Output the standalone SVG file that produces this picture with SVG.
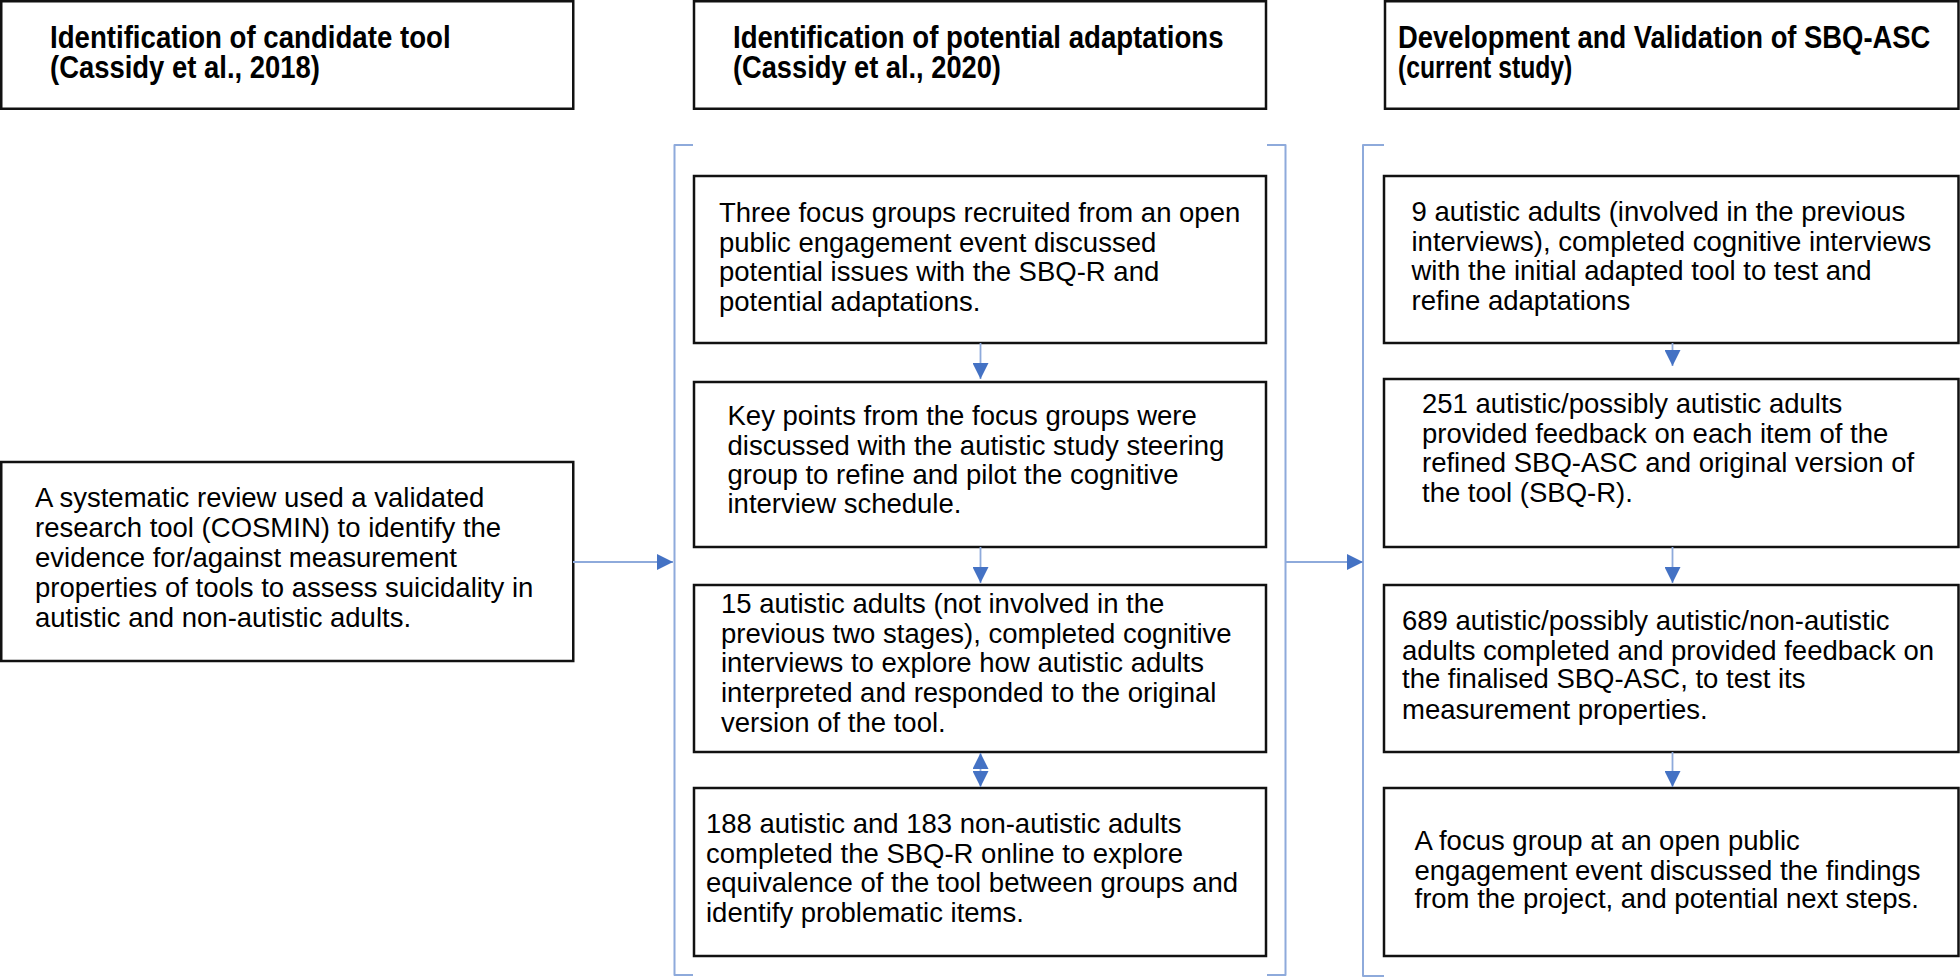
<svg xmlns="http://www.w3.org/2000/svg" width="1960" height="979" viewBox="0 0 1960 979">
<style>
.box{fill:#fff;stroke:#111;stroke-width:2.5}
.hd{font-family:"Liberation Sans",Arial,sans-serif;font-weight:bold;font-size:30.5px;fill:#000}
.tx{font-family:"Liberation Sans",Arial,sans-serif;font-size:27.5px;fill:#000}
.br{fill:none;stroke:#8eaadb;stroke-width:2;stroke-linejoin:round}
.ln{fill:none;stroke:#8eaadb;stroke-width:1.8}
</style>
<defs>
<marker id="ah" markerUnits="userSpaceOnUse" markerWidth="16" markerHeight="16" viewBox="0 0 15 15" refX="15" refY="7.5" orient="auto-start-reverse">
<path d="M0,0 L15,7.5 L0,15 z" fill="#4472c4"/>
</marker>
</defs>
<rect width="1960" height="979" fill="#fff"/>

<g id="header1">
<rect class="box" x="1.25" y="1.25" width="572" height="107.5"/>
<text class="hd" transform="translate(50,48) scale(0.906,1)">Identification of candidate tool</text>
<text class="hd" transform="translate(50,78) scale(0.9,1)">(Cassidy et al., 2018)</text>
</g>
<g id="header2">
<rect class="box" x="694" y="1.25" width="572" height="107.5"/>
<text class="hd" transform="translate(733,48) scale(0.905,1)">Identification of potential adaptations</text>
<text class="hd" transform="translate(733,78) scale(0.893,1)">(Cassidy et al., 2020)</text>
</g>
<g id="header3">
<rect class="box" x="1385" y="1.25" width="573.5" height="107.5"/>
<text class="hd" transform="translate(1398,48) scale(0.898,1)">Development and Validation of SBQ-ASC</text>
<text class="hd" transform="translate(1398,78) scale(0.81,1)">(current study)</text>
</g>

<g id="review">
<rect class="box" x="1.25" y="462" width="572" height="199"/>
<text class="tx" x="35" y="507">A systematic review used a validated</text>
<text class="tx" x="35" y="537">research tool (COSMIN) to identify the</text>
<text class="tx" x="35" y="567">evidence for/against measurement</text>
<text class="tx" x="35" y="597">properties of tools to assess suicidality in</text>
<text class="tx" x="35" y="627">autistic and non-autistic adults.</text>
</g>

<g id="focus-groups">
<rect class="box" x="694" y="176" width="572" height="167"/>
<text class="tx" x="719" y="222">Three focus groups recruited from an open</text>
<text class="tx" x="719" y="251.5">public engagement event discussed</text>
<text class="tx" x="719" y="281">potential issues with the SBQ-R and</text>
<text class="tx" x="719" y="310.5">potential adaptations.</text>
</g>
<g id="key-points">
<rect class="box" x="694" y="382" width="572" height="165"/>
<text class="tx" x="727.5" y="425">Key points from the focus groups were</text>
<text class="tx" x="727.5" y="455">discussed with the autistic study steering</text>
<text class="tx" x="727.5" y="484">group to refine and pilot the cognitive</text>
<text class="tx" x="727.5" y="513">interview schedule.</text>
</g>
<g id="cognitive-15">
<rect class="box" x="694" y="585" width="572" height="167"/>
<text class="tx" x="721" y="613">15 autistic adults (not involved in the</text>
<text class="tx" x="721" y="643">previous two stages), completed cognitive</text>
<text class="tx" x="721" y="672">interviews to explore how autistic adults</text>
<text class="tx" x="721" y="702">interpreted and responded to the original</text>
<text class="tx" x="721" y="732">version of the tool.</text>
</g>
<g id="online-371">
<rect class="box" x="694" y="788" width="572" height="168"/>
<text class="tx" x="706" y="833">188 autistic and 183 non-autistic adults</text>
<text class="tx" x="706" y="863">completed the SBQ-R online to explore</text>
<text class="tx" x="706" y="892">equivalence of the tool between groups and</text>
<text class="tx" x="706" y="922">identify problematic items.</text>
</g>

<g id="cognitive-9">
<rect class="box" x="1384" y="176" width="574.5" height="167"/>
<text class="tx" x="1411.5" y="221">9 autistic adults (involved in the previous</text>
<text class="tx" x="1411.5" y="251">interviews), completed cognitive interviews</text>
<text class="tx" x="1411.5" y="280">with the initial adapted tool to test and</text>
<text class="tx" x="1411.5" y="310">refine adaptations</text>
</g>
<g id="feedback-251">
<rect class="box" x="1384" y="379" width="574.5" height="168"/>
<text class="tx" x="1422" y="413">251 autistic/possibly autistic adults</text>
<text class="tx" x="1422" y="443">provided feedback on each item of the</text>
<text class="tx" x="1422" y="472">refined SBQ-ASC and original version of</text>
<text class="tx" x="1422" y="502">the tool (SBQ-R).</text>
</g>
<g id="validation-689">
<rect class="box" x="1384" y="585" width="574.5" height="167"/>
<text class="tx" x="1402" y="630">689 autistic/possibly autistic/non-autistic</text>
<text class="tx" x="1402" y="660">adults completed and provided feedback on</text>
<text class="tx" x="1402" y="688">the finalised SBQ-ASC, to test its</text>
<text class="tx" x="1402" y="719">measurement properties.</text>
</g>
<g id="final-focus">
<rect class="box" x="1384" y="788" width="574.5" height="168"/>
<text class="tx" x="1414.5" y="850">A focus group at an open public</text>
<text class="tx" x="1414.5" y="880">engagement event discussed the findings</text>
<text class="tx" x="1414.5" y="908">from the project, and potential next steps.</text>
</g>

<g id="connectors">
<path class="br" d="M693,145 H674.5 V975 H693"/>
<path class="br" d="M1267,145 H1285.5 V975 H1267"/>
<path class="br" d="M1384,145 H1363 V976 H1384"/>
<line class="ln" x1="573" y1="562" x2="673" y2="562" marker-end="url(#ah)"/>
<line class="ln" x1="1286" y1="562" x2="1363" y2="562" marker-end="url(#ah)"/>
<line class="ln" x1="980.5" y1="343" x2="980.5" y2="379" marker-end="url(#ah)"/>
<line class="ln" x1="980.5" y1="547" x2="980.5" y2="583" marker-end="url(#ah)"/>
<line class="ln" x1="980.5" y1="753" x2="980.5" y2="787" marker-start="url(#ah)" marker-end="url(#ah)"/>
<line class="ln" x1="1672.5" y1="343" x2="1672.5" y2="366" marker-end="url(#ah)"/>
<line class="ln" x1="1672.5" y1="547" x2="1672.5" y2="583" marker-end="url(#ah)"/>
<line class="ln" x1="1672.5" y1="752" x2="1672.5" y2="787" marker-end="url(#ah)"/>
</g>
</svg>
